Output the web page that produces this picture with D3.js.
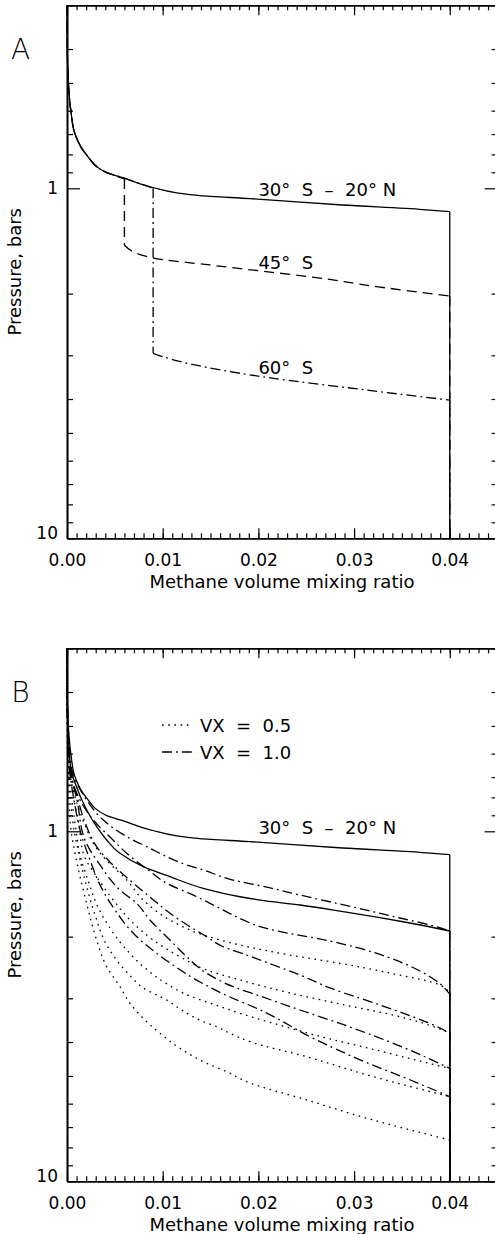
<!DOCTYPE html>
<html>
<head>
<meta charset="utf-8">
<script src="https://cdn.jsdelivr.net/npm/d3@7"></script>
<style>
  body { margin: 0; background: #fff; }
  svg text { font-family: "DejaVu Sans", "Liberation Sans", sans-serif; fill: #000; }
</style>
</head>
<body>
<svg id="chart" width="495" height="1234"></svg>
<script>
// axis setup
const xDomain = [0, 0.045];
const yDomain = [0.3, 10];
const xTickValues = [0, 0.01, 0.02, 0.03, 0.04];
const xTickLabels = ["0.00", "0.01", "0.02", "0.03", "0.04"];
const yTickValues = [1, 10];
const yTickLabels = ["1", "10"];

// panel A: [methane mixing ratio, pressure in bars]
const eq30S20N = [[0,0.3],[0.00003,0.4],[0.00014,0.5],[0.0004,0.6],[0.00084,0.7],[0.002,0.8],[0.0041,0.9],[0.0059,0.934],[0.0087,0.99],[0.0139,1.05],[0.0191,1.07],[0.0288,1.116],[0.0372,1.15],[0.04,1.166],[0.04,10]];
const lat45S = [[0,0.3],[0.00003,0.4],[0.00014,0.5],[0.0004,0.6],[0.00084,0.7],[0.002,0.8],[0.0041,0.9],[0.006,0.94],[0.006,1.452],[0.0078,1.551],[0.009,1.582],[0.0149,1.656],[0.02,1.72],[0.0254,1.79],[0.0327,1.915],[0.04,2.03],[0.04,10]];
const lat60S = [[0,0.3],[0.00003,0.4],[0.00014,0.5],[0.0004,0.6],[0.00084,0.7],[0.002,0.8],[0.0041,0.9],[0.0059,0.934],[0.009,1.0],[0.009,2.96],[0.0111,3.09],[0.0209,3.47],[0.0313,3.77],[0.04,4.03],[0.04,10]];

// panel B
const solidB2 = [[0,0.3],[0.00003,0.4215],[0.00016,0.5483],[0.00042,0.6681],[0.00084,0.7278],[0.00206,0.8694],[0.0031,0.9703],[0.00415,1.059],[0.00554,1.156],[0.00797,1.262],[0.01076,1.348],[0.01424,1.455],[0.01808,1.538],[0.02017,1.572],[0.02435,1.624],[0.02853,1.69],[0.03239,1.758],[0.03584,1.828],[0.04,1.927],[0.04,10]];
const vx10 = [
  [[0,0.3],[0.00003,0.4215],[0.00016,0.5483],[0.00052,0.6681],[0.00206,0.814],[0.00379,0.9284],[0.00624,1.036],[0.00867,1.118],[0.01006,1.169],[0.01251,1.248],[0.01424,1.29],[0.01669,1.362],[0.01808,1.393],[0.01982,1.423],[0.02435,1.521],[0.02853,1.614],[0.0348,1.769],[0.03793,1.852],[0.04,1.927],[0.04,10]],
  [[0,0.3],[0.00003,0.4215],[0.00014,0.5483],[0.00037,0.6681],[0.00136,0.814],[0.00293,0.9406],[0.00481,1.059],[0.00624,1.156],[0.0085,1.29],[0.01042,1.408],[0.0132,1.521],[0.01564,1.642],[0.01842,1.792],[0.02017,1.873],[0.02853,2.089],[0.03845,2.659],[0.04,2.917],[0.04,10]],
  [[0,0.3],[0.00003,0.4215],[0.00014,0.5483],[0.00031,0.6681],[0.00115,0.814],[0.00199,0.9594],[0.0031,1.107],[0.00449,1.224],[0.00606,1.342],[0.00728,1.433],[0.00867,1.541],[0.01076,1.715],[0.01285,1.873],[0.0146,2.001],[0.01633,2.137],[0.01878,2.257],[0.02017,2.332],[0.02435,2.574],[0.02748,2.803],[0.03271,3.135],[0.03898,3.648],[0.04,3.777],[0.04,10]],
  [[0,0.3],[0.00003,0.4215],[0.00012,0.5483],[0.00031,0.6681],[0.00104,0.814],[0.00188,1.059],[0.00345,1.248],[0.00554,1.472],[0.00728,1.606],[0.00867,1.792],[0.01076,2.045],[0.01251,2.282],[0.0146,2.545],[0.01738,2.78],[0.02017,2.956],[0.02435,3.24],[0.02957,3.623],[0.0348,4.107],[0.04,4.755],[0.04,10]],
  [[0,0.3],[0.00003,0.4215],[0.0001,0.5483],[0.00026,0.6681],[0.00073,0.814],[0.00136,0.9915],[0.0024,1.208],[0.00345,1.423],[0.00502,1.679],[0.00711,1.978],[0.0092,2.213],[0.01076,2.378],[0.0139,2.695],[0.01703,2.975],[0.01982,3.204],[0.02609,3.948],[0.03027,4.453],[0.03759,5.367],[0.04,5.731],[0.04,10]]
];
const vx05 = [
  [[0,0.3],[0.00003,0.4215],[0.0001,0.5483],[0.00026,0.6681],[0.00094,0.814],[0.00188,0.9594],[0.00275,1.082],[0.00379,1.182],[0.00624,1.378],[0.00833,1.606],[0.01076,1.792],[0.01424,1.978],[0.01808,2.113],[0.0233,2.257],[0.02853,2.383],[0.03375,2.541],[0.03898,2.749],[0.04,2.917],[0.04,10]],
  [[0,0.3],[0.00003,0.4215],[0.00008,0.5483],[0.00021,0.6681],[0.00073,0.814],[0.00125,0.9594],[0.0017,1.156],[0.0031,1.348],[0.00484,1.572],[0.00658,1.792],[0.00902,2.045],[0.01181,2.282],[0.0146,2.49],[0.01808,2.659],[0.0233,2.897],[0.02853,3.114],[0.03406,3.349],[0.03814,3.6],[0.04,3.777],[0.04,10]],
  [[0,0.3],[0.00003,0.4215],[0.00007,0.5483],[0.00016,0.6681],[0.00052,0.814],[0.00094,0.9915],[0.00136,1.169],[0.00219,1.378],[0.00313,1.624],[0.00428,1.852],[0.00606,2.155],[0.00815,2.458],[0.01045,2.731],[0.01285,2.956],[0.01494,3.094],[0.01808,3.311],[0.02403,3.696],[0.0257,3.807],[0.03271,4.243],[0.03929,4.706],[0.04,4.755],[0.04,10]],
  [[0,0.3],[0.00003,0.4215],[0.00006,0.5483],[0.00014,0.6681],[0.00037,0.814],[0.00073,0.9915],[0.00115,1.131],[0.00188,1.378],[0.00293,1.734],[0.00415,2.113],[0.00624,2.523],[0.00833,2.841],[0.01042,3.034],[0.01146,3.17],[0.01285,3.349],[0.01424,3.499],[0.01564,3.616],[0.01703,3.777],[0.01912,3.992],[0.02505,4.406],[0.032,5.024],[0.03932,5.667],[0.04,5.731],[0.04,10]],
  [[0,0.3],[0.00003,0.481],[0.0001,0.668],[0.00021,0.814],[0.00042,0.9915],[0.00084,1.156],[0.00136,1.348],[0.00188,1.538],[0.0024,1.754],[0.0031,2.045],[0.00415,2.437],[0.00554,2.78],[0.00658,3.1],[0.00763,3.349],[0.00972,3.777],[0.01181,4.169],[0.0146,4.602],[0.01669,4.863],[0.0186,5.169],[0.02505,5.857],[0.032,6.682],[0.04,7.621],[0.04,10]]
];

const svg = d3.select("#chart");
const left = 67, right = 497.6;
const x = d3.scaleLinear().domain(xDomain).range([left, right]);

const styles = {
  solid: null,
  dashed: "10,6",
  dashdot: "10,4,1.8,4",
  dotted: "1.6,4.6"
};

// split a profile into smooth runs and straight vertical drops
function splitRuns(data) {
  const runs = [];
  let run = [data[0]];
  for (let i = 1; i < data.length; i++) {
    if (data[i][0] === data[i - 1][0]) {
      if (run.length > 1) runs.push({pts: run, smooth: true});
      runs.push({pts: [data[i - 1], data[i]], smooth: false});
      run = [data[i]];
    } else {
      run.push(data[i]);
    }
  }
  if (run.length > 1) runs.push({pts: run, smooth: true});
  return runs;
}

function drawPanel(top, letter, series, labels) {
  const bottom = top + 533;
  const y = d3.scaleLog().domain(yDomain).range([top, bottom]);
  const g = svg.append("g");
  const smooth = d3.line().x(d => x(d[0])).y(d => y(d[1])).curve(d3.curveMonotoneY);
  const straight = d3.line().x(d => x(d[0])).y(d => y(d[1]));

  const minorX = d3.range(0, 46).map(i => i / 1000);
  const minorY = [0.3,0.4,0.5,0.6,0.7,0.8,0.9,2,3,4,5,6,7,8,9];

  function tidy(a) {
    a.select(".domain").attr("stroke", "#000").attr("stroke-width", 1.6);
    a.selectAll(".tick line").attr("stroke", "#000").attr("stroke-width", 1.2);
  }
  // minor ticks
  g.append("g").attr("transform", `translate(0,${bottom})`)
    .call(d3.axisBottom(x).tickValues(minorX).tickSize(-5).tickSizeOuter(0).tickFormat(""))
    .call(tidy);
  g.append("g").attr("transform", `translate(0,${top})`)
    .call(d3.axisTop(x).tickValues(minorX).tickSize(-5).tickSizeOuter(0).tickFormat(""))
    .call(tidy);
  g.append("g").attr("transform", `translate(${left},0)`)
    .call(d3.axisLeft(y).tickValues(minorY).tickSize(-6).tickSizeOuter(0).tickFormat(""))
    .call(tidy);
  g.append("g").attr("transform", `translate(${right},0)`)
    .call(d3.axisRight(y).tickValues(minorY).tickSize(-6).tickSizeOuter(0).tickFormat(""))
    .call(tidy);
  // major ticks
  const xb = g.append("g").attr("transform", `translate(0,${bottom})`)
    .call(d3.axisBottom(x).tickValues(xTickValues).tickSize(-10).tickSizeOuter(0)
      .tickPadding(16).tickFormat((d, i) => xTickLabels[i]))
    .call(tidy);
  xb.selectAll("text").attr("font-size", 17);
  g.append("g").attr("transform", `translate(0,${top})`)
    .call(d3.axisTop(x).tickValues(xTickValues).tickSize(-10).tickSizeOuter(0).tickFormat(""))
    .call(tidy);
  const yl = g.append("g").attr("transform", `translate(${left},0)`)
    .call(d3.axisLeft(y).tickValues(yTickValues).tickSize(-13).tickSizeOuter(0)
      .tickPadding(9).tickFormat((d, i) => yTickLabels[i]))
    .call(tidy);
  yl.selectAll("text").attr("font-size", 17).attr("y", d => d === 10 ? -5 : 0);
  g.append("g").attr("transform", `translate(${right},0)`)
    .call(d3.axisRight(y).tickValues(yTickValues).tickSize(-13).tickSizeOuter(0).tickFormat(""))
    .call(tidy);
  g.selectAll("g").attr("font-family", null);

  // curves
  series.forEach(s => {
    splitRuns(s.data).forEach(r => {
      g.append("path")
        .datum(r.pts)
        .attr("d", r.smooth ? smooth : straight)
        .attr("fill", "none")
        .attr("stroke", "#000")
        .attr("stroke-width", 1.3)
        .attr("stroke-dasharray", styles[s.style]);
    });
  });

  labels.forEach(l => {
    g.append("text")
      .attr("x", x(l.x)).attr("y", y(l.p))
      .attr("font-size", 18)
      .style("white-space", "pre")
      .text(l.text);
  });

  g.append("text").attr("x", 20.5).attr("y", top + 54)
    .attr("text-anchor", "middle").attr("font-size", 28).attr("font-weight", 200)
    .text(letter);
  g.append("text").attr("x", 282).attr("y", bottom + 50)
    .attr("text-anchor", "middle").attr("font-size", 18)
    .text("Methane volume mixing ratio");
  g.append("text")
    .attr("transform", `translate(21,${(top + bottom) / 2}) rotate(-90)`)
    .attr("text-anchor", "middle").attr("font-size", 18)
    .text("Pressure, bars");
  return {g, y};
}

drawPanel(5.3, "A",
  [{data: eq30S20N, style: "solid"},
   {data: lat45S, style: "dashed"},
   {data: lat60S, style: "dashdot"}],
  [{x: 0.0200, p: 1.05, text: "30°  S  –  20° N"},
   {x: 0.0200, p: 1.70, text: "45°  S"},
   {x: 0.0200, p: 3.40, text: "60°  S"}]);

const pB = drawPanel(648.3, "B",
  [{data: eq30S20N, style: "solid"}, {data: solidB2, style: "solid"}]
    .concat(vx10.map(d => ({data: d, style: "dashdot"})))
    .concat(vx05.map(d => ({data: d, style: "dotted"}))),
  [{x: 0.0200, p: 1.015, text: "30°  S  –  20° N"}]);

// legend
const legendItems = [{style: "dotted", text: "VX  =  0.5"}, {style: "dashdot", text: "VX  =  1.0"}];
legendItems.forEach((d, i) => {
  const ly = 725 + i * 27;
  pB.g.append("line").attr("x1", 162).attr("x2", 192).attr("y1", ly).attr("y2", ly)
    .attr("stroke", "#000").attr("stroke-width", 1.3)
    .attr("stroke-dasharray", styles[d.style]);
  pB.g.append("text").attr("x", 200).attr("y", ly + 7)
    .attr("font-size", 18).style("white-space", "pre").text(d.text);
});
</script>
</body>
</html>
